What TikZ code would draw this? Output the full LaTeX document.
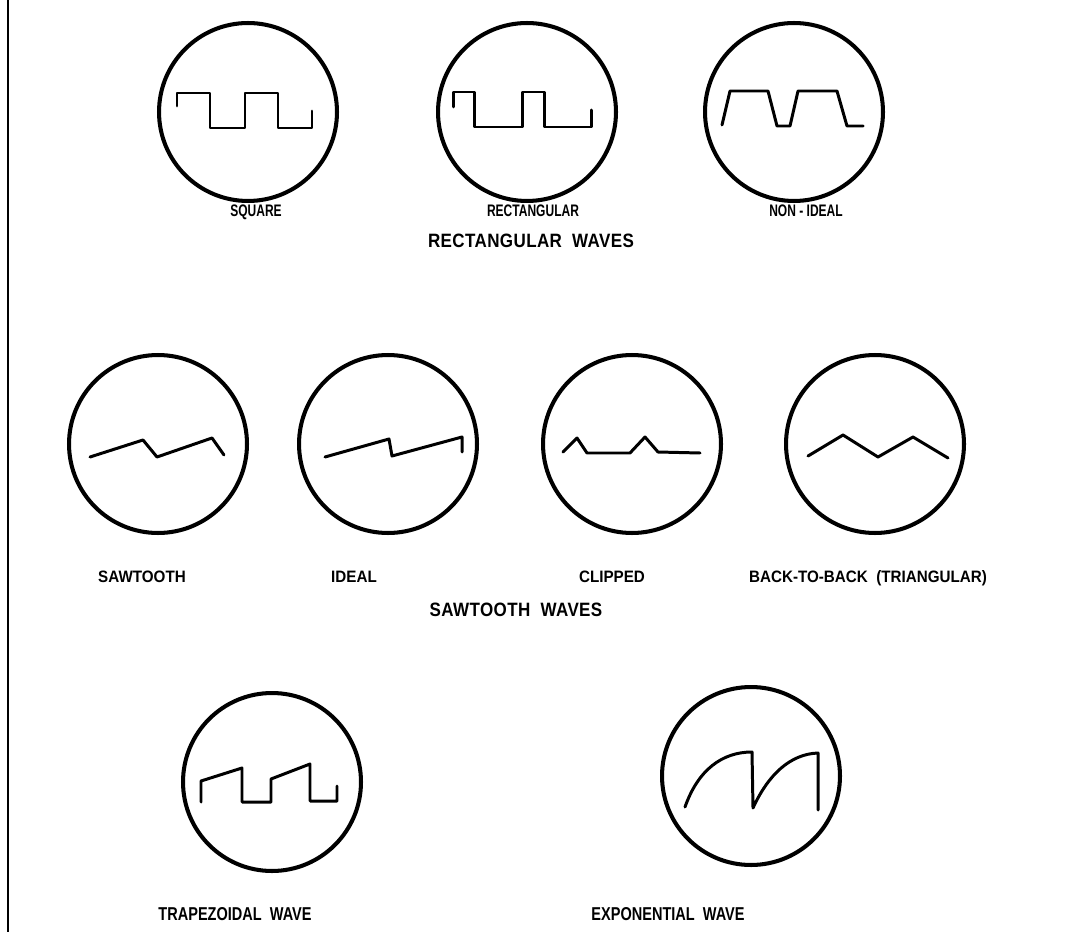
\documentclass[tikz,border=0pt]{standalone}
\usepackage{fontspec}
\usepackage{tikz}
\usetikzlibrary{positioning, calc}
\newfontfamily\lblfont[FakeStretch=0.72]{Liberation Sans}
\newfontfamily\midfont[FakeStretch=0.92]{Liberation Sans}
\newfontfamily\bigfont[FakeStretch=0.78]{Liberation Sans}
\newfontfamily\ttlfont[FakeStretch=0.88,LetterSpace=2]{Liberation Sans}
\tikzset{
  screen/.style={
    circle, draw=black, line width=2.3pt,
    minimum size=3.56cm, inner sep=0pt,
  },
  wave/.style={line width=1.7pt, line join=round, line cap=round},
  lbl/.style={font=\fontsize{9.5}{11}\lblfont\bfseries, inner sep=0pt, anchor=base},
  midlbl/.style={font=\fontsize{9.4}{11}\midfont\bfseries, inner sep=0pt, anchor=base},
  biglbl/.style={font=\fontsize{10.6}{12}\bigfont\bfseries, inner sep=0pt, anchor=base},
  ttl/.style={font=\fontsize{11}{13}\ttlfont\bfseries, inner sep=0pt, anchor=base},
  border/.style={line width=1.6pt},
}
\begin{document}
\begin{tikzpicture}[x=0.02cm, y=-0.02cm]
  \useasboundingbox (0,0) rectangle (1091,932);
  \draw[border] (8,0) -- (8,932);

  % rectangular waves
  \node[screen] (square) at (248,112) {};
  \node[screen] (rect) at (527,112) {};
  \node[screen] (nonideal) at (794,112) {};
  \draw[wave] (177,106) -- (177,93) -- (210,93) -- (210,128) -- (245,128) -- (245,93)
    -- (278,93) -- (278,128) -- (312,128) -- (312,111);
  \draw[wave] (453,107) -- (453,92) -- (474,92) -- (474,127) -- (522,127) -- (522,92)
    -- (544,92) -- (544,127) -- (591,127) -- (591,110);
  \draw[wave] (722,125) -- (730,91) -- (768,91) -- (777,126) -- (790,126) -- (798,91)
    -- (837,91) -- (847,126) -- (863,126);
  \node[lbl] (lsquare) at (256,217) {SQUARE};
  \node[lbl] (lrect) at (533,217) {RECTANGULAR};
  \node[lbl] (lnonideal) at (806,217) {NON - IDEAL};
  \node[ttl] (trect) at (531,248) {RECTANGULAR\ \ WAVES};

  % sawtooth waves
  \node[screen] (saw) at (158,444) {};
  \node[screen] (ideal) at (388,444) {};
  \node[screen] (clipped) at (632,444) {};
  \node[screen] (tri) at (875,444) {};
  \draw[wave] (90,457) -- (143,440) -- (157,457) -- (212,438) -- (224,455);
  \draw[wave] (325,457) -- (389,439) -- (392,456) -- (462,437) -- (462,452);
  \draw[wave] (563,452) -- (577,438) -- (587,453) -- (630,453) -- (645,437)
    -- (658,452) -- (700,453);
  \draw[wave] (808,456) -- (843,435) -- (878,457) -- (913,437) -- (948,458);
  \node[midlbl] (lsaw) at (142,582) {SAWTOOTH};
  \node[midlbl] (lideal) at (354,582) {IDEAL};
  \node[midlbl] (lclipped) at (612,582) {CLIPPED};
  \node[midlbl] (ltri) at (868,582) {BACK-TO-BACK\ \ (TRIANGULAR)};
  \node[ttl] (tsaw) at (516,616) {SAWTOOTH\ \ WAVES};

  % trapezoidal and exponential
  \node[screen] (trap) at (272,782) {};
  \node[screen] (expo) at (751,776) {};
  \draw[wave] (201,802) -- (201,781) -- (242,768) -- (242,802) -- (271,802) -- (271,779)
    -- (310,764) -- (310,801) -- (337,801) -- (337,786);
  \draw[wave] (685,807) .. controls (698,770) and (722,752) .. (752,752) -- (753,808)
    .. controls (768,775) and (790,754) .. (818,753) -- (818,810);
  \node[biglbl] (ltrap) at (235,920) {TRAPEZOIDAL\ \ WAVE};
  \node[biglbl] (lexpo) at (668,920) {EXPONENTIAL\ \ WAVE};
\end{tikzpicture}
\end{document}
